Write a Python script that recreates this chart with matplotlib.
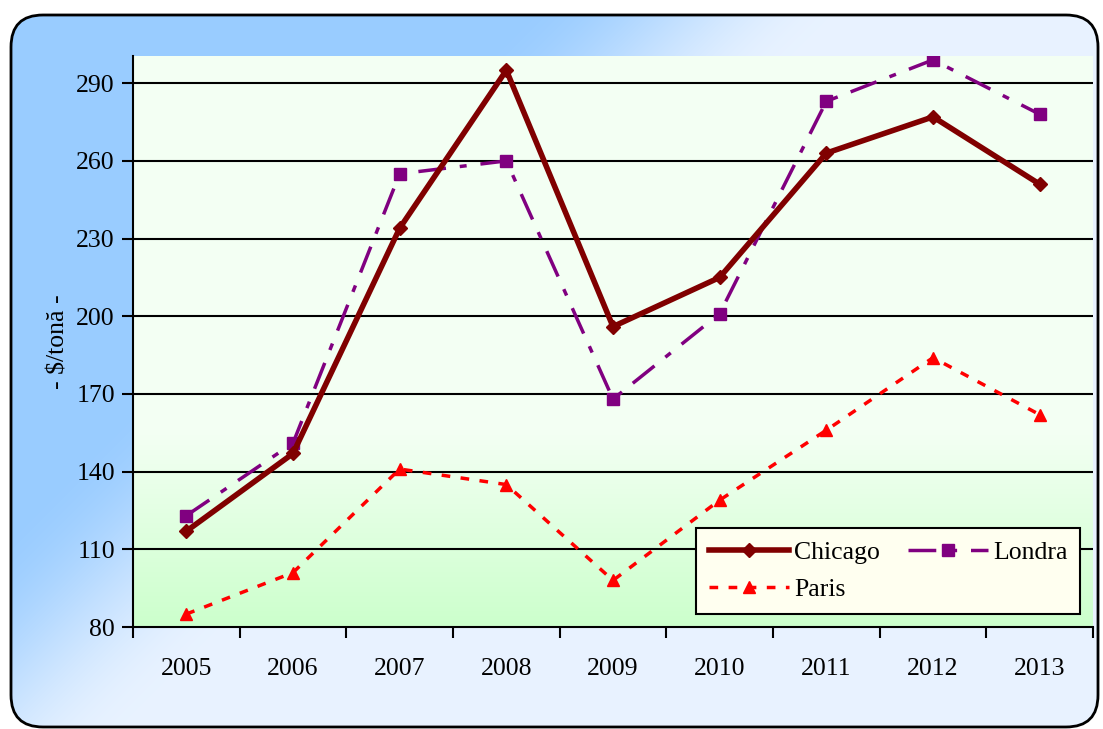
import numpy as np
import matplotlib
matplotlib.use("Agg")
from matplotlib import pyplot as plt
from matplotlib.patches import FancyBboxPatch

plt.rcParams['font.family'] = ['Liberation Serif', 'DejaVu Serif']

years = ['2005', '2006', '2007', '2008', '2009', '2010', '2011', '2012', '2013']
chicago = [117, 147, 234, 295, 196, 215, 263, 277, 251]
londra = [123, 151, 255, 260, 168, 201, 283, 299, 278]
paris = [85, 101, 141, 135, 98, 129, 156, 184, 162]

fig = plt.figure(figsize=(11.03, 7.29), dpi=100)
W, H = 1103, 729

# rounded outer frame, blue in the top-left fading to pale blue
bg = fig.add_axes([0, 0, 1, 1], zorder=-10)
bg.set_xlim(0, W)
bg.set_ylim(0, H)
bg.axis('off')
px, py = np.meshgrid(np.arange(W), np.arange(H))
t = np.clip((px + py - 530) / 320, 0, 1)
t = t * t * (3 - 2 * t)
c0 = np.array([0.60, 0.80, 1.0])
c1 = np.array([0.91, 0.95, 1.0])
img = c0[None, None, :] * (1 - t[..., None]) + c1[None, None, :] * t[..., None]
frame = FancyBboxPatch((11, 2), W - 16, H - 17, boxstyle="round,pad=0,rounding_size=32",
                       fc='none', ec='black', lw=2)
im = bg.imshow(img, extent=[0, W, 0, H], origin='upper', aspect='auto')
bg.add_patch(frame)
im.set_clip_path(frame)

ax = fig.add_axes([133 / W, 1 - 627 / H, 960 / W, 571 / H])
x = np.arange(len(years))
ax.set_xlim(-0.5, len(years) - 0.5)
ax.set_ylim(80, 300.5)

# plot area: pale on top, light green towards the bottom
v = np.linspace(0, 1, 256)
grad = np.clip((v - 0.66) / 0.34, 0, 1)
top = np.array([0.955, 1.0, 0.955])
bot = np.array([0.80, 1.0, 0.80])
pimg = top[None, :] * (1 - grad[:, None]) + bot[None, :] * grad[:, None]
ax.imshow(pimg[:, None, :], extent=[-0.5, len(years) - 0.5, 80, 300.5], aspect='auto',
          origin='upper', zorder=0)

for yv in [110, 140, 170, 200, 230, 260, 290]:
    ax.axhline(yv, color='black', lw=1.5, zorder=1)

l1, = ax.plot(x, chicago, color='#800000', lw=4, marker='D', ms=7, label='Chicago', zorder=4)
l2, = ax.plot(x, londra, color='#800080', lw=2.5, ls=(0, (8, 4, 2, 4)), marker='s', ms=8,
              label='Londra', zorder=3)
l3, = ax.plot(x, paris, color='#FF0000', lw=2.5, ls=(0, (2.5, 3)), marker='^', ms=9,
              label='Paris', zorder=3)

ax.set_yticks([80, 110, 140, 170, 200, 230, 260, 290])
ax.tick_params(axis='y', labelsize=18.5, length=8, width=1.5, direction='out', pad=5)
ax.set_xticks(x)
ax.set_xticklabels(years)
ax.set_xticks(np.arange(-0.5, len(years)), minor=True)
ax.tick_params(axis='x', which='major', length=0, labelsize=18.5, pad=22)
ax.tick_params(axis='x', which='minor', length=8, width=1.5, direction='out')
for s in ['top', 'right']:
    ax.spines[s].set_visible(False)
ax.spines['left'].set_linewidth(1.5)
ax.spines['bottom'].set_linewidth(1.5)
ax.set_ylabel('- \\$/tonă -', fontsize=18.5, labelpad=5)

leg = ax.legend([l1, l3, l2], ['Chicago', 'Paris', 'Londra'], loc='lower right', ncol=2,
                fontsize=18.5, frameon=True, fancybox=False,
                facecolor='#FFFFF0', edgecolor='black', framealpha=1,
                handlelength=3.1, columnspacing=1.1, borderpad=0.5, labelspacing=0.55,
                handletextpad=0.2, bbox_to_anchor=(1.0, 0.0))
leg.get_frame().set_linewidth(1.5)

fig.savefig('out.png', dpi=100)
